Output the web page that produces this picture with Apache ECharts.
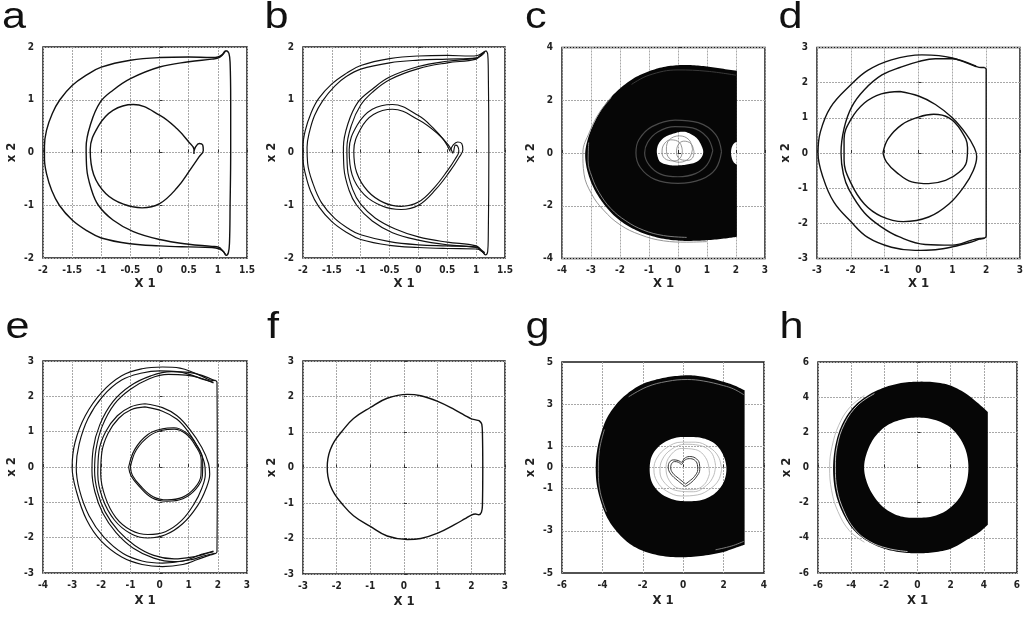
<!DOCTYPE html>
<html><head><meta charset="utf-8">
<script src="https://cdn.jsdelivr.net/npm/echarts@6/dist/echarts.min.js"></script>
<style>html,body{margin:0;padding:0;background:#fff}#c{width:1028px;height:618px}</style>
</head><body><div id="c"></div>
<script>
// ---------------- DATA ----------------
const PANEL_LETTERS = ['a','b','c','d','e','f','g','h'];
const X_NAME = 'X 1';
const Y_NAME = 'x 2';
// [min, max, interval]
const X_RANGES = [[-2,1.5,0.5],[-2,1.5,0.5],[-4,3,1],[-3,3,1],[-4,3,1],[-3,3,1],[-6,4,2],[-6,6,2]];
const Y_RANGES = [[-2,2,1],[-2,2,1],[-4,4,2],[-3,3,1],[-3,3,1],[-3,3,1],[-5,5,1],[-6,6,2]];
const G_Y_TICKS = [5,3,1,0,-1,-3,-5];

// panel a
const A_OUTER = [[1.15,1.93],[1.19,1.88],[1.21,1.7],[1.22,1.0],[1.22,0],[1.21,-1.0],[1.2,-1.7],[1.18,-1.9],[1.14,-1.95],[1.1,-1.88],[1.03,-1.83],[0.9,-1.8],[0.5,-1.79],[0,-1.77],[-0.5,-1.73],[-1.0,-1.62],[-1.25,-1.48],[-1.5,-1.28],[-1.72,-1.0],[-1.85,-0.72],[-1.94,-0.4],[-1.975,-0.12],[-1.975,0.12],[-1.94,0.42],[-1.84,0.74],[-1.71,1.0],[-1.5,1.27],[-1.25,1.47],[-1.0,1.62],[-0.5,1.75],[0,1.8],[0.5,1.81],[0.9,1.8],[1.0,1.81],[1.07,1.85],[1.12,1.92],[1.15,1.93]];
const A_MID = [[1.13,1.92],[1.07,1.84],[1.0,1.79],[0.9,1.77],[0.5,1.72],[0,1.62],[-0.5,1.4],[-0.8,1.18],[-1.02,0.95],[-1.18,0.55],[-1.26,0.1],[-1.25,-0.3],[-1.17,-0.7],[-1.05,-1.0],[-0.8,-1.28],[-0.45,-1.5],[0,-1.65],[0.5,-1.74],[0.9,-1.78],[1.02,-1.8],[1.08,-1.86],[1.13,-1.93]];
const A_INNER = [[0.59,-0.03],[0.59,0.06],[0.5,0.2],[0.3,0.45],[0,0.71],[-0.45,0.91],[-0.8,0.8],[-1.05,0.5],[-1.19,0.05],[-1.13,-0.42],[-0.92,-0.78],[-0.62,-0.98],[-0.3,-1.05],[0,-0.97],[0.3,-0.67],[0.53,-0.32],[0.68,-0.08],[0.75,0.04],[0.74,0.14],[0.68,0.17],[0.62,0.11],[0.59,0.02]];

// panel b
const B_OUTER1 = [[1.17,1.93],[1.2,1.87],[1.21,1.6],[1.22,0],[1.21,-1.6],[1.2,-1.88],[1.16,-1.94],[1.1,-1.87],[1.0,-1.83],[0.5,-1.82],[0,-1.8],[-0.5,-1.76],[-1.0,-1.65],[-1.25,-1.51],[-1.5,-1.31],[-1.73,-1.02],[-1.87,-0.73],[-1.96,-0.4],[-2.0,-0.12],[-2.0,0.12],[-1.96,0.42],[-1.86,0.75],[-1.73,1.02],[-1.5,1.3],[-1.25,1.5],[-1.0,1.65],[-0.5,1.78],[0,1.83],[0.5,1.84],[0.9,1.83],[1.02,1.84],[1.1,1.88],[1.17,1.93]];
const B_OUTER2 = [[1.15,1.9],[1.08,1.83],[1.0,1.79],[0.5,1.77],[0,1.75],[-0.5,1.7],[-1.0,1.58],[-1.25,1.44],[-1.45,1.26],[-1.66,0.98],[-1.8,0.7],[-1.89,0.38],[-1.93,0.1],[-1.92,-0.2],[-1.83,-0.58],[-1.68,-0.95],[-1.45,-1.25],[-1.2,-1.45],[-1.0,-1.56],[-0.5,-1.69],[0,-1.75],[0.5,-1.77],[1.0,-1.79],[1.08,-1.84],[1.15,-1.9]];
const B_MID1 = [[1.15,1.92],[1.07,1.84],[1.0,1.79],[0.5,1.73],[0,1.63],[-0.5,1.43],[-0.8,1.2],[-1.05,0.95],[-1.22,0.55],[-1.3,0.1],[-1.29,-0.3],[-1.2,-0.72],[-1.07,-1.0],[-0.8,-1.3],[-0.45,-1.52],[0,-1.66],[0.5,-1.75],[1.0,-1.8],[1.08,-1.86],[1.15,-1.93]];
const B_MID2 = [[1.1,1.88],[1.0,1.77],[0.5,1.7],[0,1.59],[-0.5,1.38],[-0.8,1.14],[-1.0,0.9],[-1.16,0.52],[-1.24,0.08],[-1.23,-0.3],[-1.14,-0.7],[-1.0,-0.98],[-0.75,-1.24],[-0.4,-1.45],[0,-1.6],[0.5,-1.7],[1.0,-1.77],[1.1,-1.88]];
const B_INNER1 = [[0.55,0.02],[0.45,0.22],[0.25,0.47],[0,0.7],[-0.45,0.91],[-0.8,0.82],[-1.06,0.52],[-1.2,0.05],[-1.15,-0.42],[-0.94,-0.8],[-0.62,-1.02],[-0.3,-1.08],[0,-1.0],[0.3,-0.7],[0.55,-0.35],[0.7,-0.1],[0.77,0.05],[0.75,0.17],[0.68,0.2],[0.6,0.14],[0.56,0.05]];
const B_INNER2 = [[0.6,-0.02],[0.52,0.14],[0.33,0.36],[0,0.62],[-0.45,0.82],[-0.78,0.72],[-1.0,0.45],[-1.12,0.03],[-1.07,-0.38],[-0.88,-0.73],[-0.6,-0.95],[-0.3,-1.02],[0,-0.94],[0.28,-0.66],[0.5,-0.35],[0.64,-0.12],[0.7,0.03],[0.68,0.12],[0.64,0.14],[0.62,0.08],[0.61,0.0]];

// panel c
const C_OUTER = [[2.03,3.12],[1.5,3.2],[1.0,3.28],[0.5,3.33],[0,3.33],[-0.5,3.26],[-1.0,3.1],[-1.5,2.85],[-2.0,2.45],[-2.4,2.0],[-2.72,1.5],[-2.97,0.95],[-3.13,0.45],[-3.2,0],[-3.17,-0.45],[-3.05,-0.95],[-2.85,-1.45],[-2.55,-1.95],[-2.18,-2.4],[-1.75,-2.75],[-1.25,-3.02],[-0.65,-3.22],[0,-3.32],[0.6,-3.33],[1.2,-3.29],[1.7,-3.23],[2.03,-3.18],[2.03,-2.2],[2.03,-1.2],[2.03,-0.45],[1.92,-0.35],[1.84,-0.12],[1.84,0.15],[1.92,0.35],[2.03,0.43],[2.03,1.4],[2.03,2.4]];
const C_HOLE = [[0.18,0.81],[-0.2,0.72],[-0.51,0.56],[-0.68,0.32],[-0.73,0.08],[-0.7,-0.15],[-0.62,-0.33],[-0.35,-0.45],[-0.04,-0.47],[0.3,-0.44],[0.65,-0.33],[0.82,-0.15],[0.87,0.05],[0.8,0.3],[0.65,0.56],[0.42,0.73]];
const C_LOOP1 = [[0.5,0.15],[0.38,0.5],[0.05,0.65],[-0.3,0.5],[-0.4,0.15],[-0.3,-0.2],[0.05,-0.35],[0.38,-0.2],[0.5,0.15]];
const C_LOOP2 = [[0.55,0.05],[0.45,0.35],[0.2,0.45],[0.0,0.3],[-0.05,0.0],[0.1,-0.25],[0.35,-0.28],[0.52,-0.15],[0.55,0.05]];
const C_LOOP3 = [[0.15,0.1],[0.05,0.4],[-0.25,0.5],[-0.5,0.3],[-0.55,0.0],[-0.4,-0.25],[-0.1,-0.3],[0.1,-0.15],[0.15,0.1]];
const C_RING1 = [[1.2,0.1],[1.0,0.6],[0.5,0.95],[-0.1,1.0],[-0.7,0.8],[-1.05,0.4],[-1.15,0.0],[-1.0,-0.45],[-0.6,-0.8],[0.0,-0.9],[0.6,-0.78],[1.0,-0.45],[1.2,0.1]];
const C_RING2 = [[1.5,0.05],[1.3,0.7],[0.7,1.15],[-0.1,1.25],[-0.9,1.0],[-1.35,0.5],[-1.45,0.0],[-1.3,-0.55],[-0.8,-1.0],[0.0,-1.15],[0.8,-1.0],[1.3,-0.6],[1.5,0.05]];
const C_FRINGE = [[-2.3,2.1],[-2.7,1.55],[-3.05,0.8],[-3.28,0.0],[-3.24,-0.8],[-2.98,-1.55],[-2.58,-2.15],[-2.0,-2.72],[-1.3,-3.1],[-0.5,-3.33],[0.3,-3.38],[1.0,-3.36]];
const C_EDGE = [[-3.08,0.4],[-3.1,-0.3],[-2.97,-0.9],[-2.72,-1.5],[-2.32,-2.1],[-1.8,-2.57],[-1.2,-2.92],[-0.5,-3.13],[0.3,-3.2]];
const C_TOP = [[2.0,2.95],[1.0,3.1],[0,3.15],[-1.0,2.95],[-1.6,2.6]];

// panel d
const D_OUTER = [[1.95,2.43],[2.0,2.38],[2.0,0],[2.0,-2.37],[1.95,-2.42],[1.8,-2.45],[1.6,-2.52],[1.0,-2.67],[0.5,-2.75],[-0.1,-2.77],[-0.8,-2.68],[-1.5,-2.4],[-2.0,-1.95],[-2.5,-1.4],[-2.82,-0.7],[-2.97,0],[-2.9,0.6],[-2.6,1.3],[-2.0,1.94],[-1.5,2.35],[-0.8,2.65],[0.1,2.79],[0.6,2.77],[1.0,2.7],[1.4,2.57],[1.7,2.46],[1.85,2.43],[1.95,2.43]];
const D_MID = [[1.7,2.47],[1.3,2.62],[1.0,2.68],[0.5,2.68],[0,2.6],[-0.5,2.45],[-1.08,2.22],[-1.6,1.8],[-1.97,1.32],[-2.2,0.7],[-2.29,0],[-2.22,-0.6],[-2.05,-1.05],[-1.6,-1.7],[-1.1,-2.1],[-0.58,-2.38],[0.2,-2.6],[1.0,-2.62],[1.6,-2.47],[1.8,-2.43],[1.95,-2.42]];
const D_THIRD = [[-0.55,1.75],[0,1.62],[0.5,1.38],[1.0,1.0],[1.4,0.55],[1.65,0.15],[1.72,-0.1],[1.62,-0.5],[1.35,-0.95],[0.9,-1.45],[0.3,-1.82],[-0.45,-1.95],[-1.1,-1.8],[-1.6,-1.45],[-2.0,-0.85],[-2.2,-0.2],[-2.2,0.4],[-2.0,0.95],[-1.6,1.42],[-1.1,1.68],[-0.55,1.75]];
const D_INNER = [[-1.05,0.0],[-0.9,0.4],[-0.5,0.8],[0,1.02],[0.45,1.1],[0.9,1.0],[1.25,0.65],[1.45,0.15],[1.42,-0.25],[1.2,-0.55],[0.8,-0.78],[0.3,-0.87],[-0.2,-0.82],[-0.65,-0.55],[-0.95,-0.25],[-1.05,0.0]];

// panel e
const E_OUTER1 = [[1.92,2.45],[1.97,2.4],[1.98,0],[1.97,-2.4],[1.92,-2.45],[1.7,-2.5],[1.3,-2.62],[0.8,-2.76],[0.1,-2.82],[-0.6,-2.76],[-1.3,-2.55],[-2.0,-2.1],[-2.5,-1.5],[-2.85,-0.7],[-3.0,0],[-2.9,0.7],[-2.55,1.45],[-2.0,2.1],[-1.3,2.58],[-0.6,2.78],[0.1,2.83],[0.7,2.8],[1.2,2.66],[1.5,2.55],[1.75,2.46],[1.92,2.45]];
const E_OUTER2 = [[1.85,2.4],[1.5,2.48],[1.1,2.6],[0.6,2.7],[0.0,2.72],[-0.6,2.66],[-1.3,2.46],[-1.95,2.0],[-2.45,1.38],[-2.76,0.65],[-2.86,0],[-2.75,-0.65],[-2.42,-1.38],[-1.92,-1.98],[-1.25,-2.45],[-0.6,-2.66],[0.1,-2.72],[0.8,-2.66],[1.3,-2.52],[1.6,-2.45],[1.85,-2.4]];
const E_MID1 = [[1.9,2.44],[1.5,2.58],[1.0,2.68],[0.4,2.7],[-0.3,2.58],[-1.0,2.3],[-1.6,1.85],[-2.05,1.2],[-2.28,0.5],[-2.32,-0.1],[-2.22,-0.7],[-1.95,-1.3],[-1.5,-1.85],[-0.9,-2.3],[-0.2,-2.58],[0.5,-2.68],[1.1,-2.62],[1.5,-2.52],[1.9,-2.44]];
const E_MID2 = [[1.85,2.38],[1.4,2.52],[0.9,2.6],[0.3,2.62],[-0.35,2.5],[-1.0,2.2],[-1.55,1.78],[-1.97,1.15],[-2.18,0.5],[-2.23,-0.1],[-2.13,-0.7],[-1.87,-1.27],[-1.42,-1.8],[-0.85,-2.22],[-0.2,-2.5],[0.5,-2.6],[1.1,-2.55],[1.5,-2.46],[1.85,-2.38]];
const E_THIRD1 = [[-0.5,1.79],[0.1,1.68],[0.6,1.45],[1.05,1.05],[1.45,0.55],[1.68,0.1],[1.72,-0.2],[1.6,-0.6],[1.3,-1.1],[0.8,-1.6],[0.2,-1.92],[-0.4,-2.01],[-1.0,-1.88],[-1.55,-1.5],[-1.95,-0.9],[-2.12,-0.2],[-2.08,0.45],[-1.85,1.0],[-1.45,1.45],[-1.0,1.7],[-0.5,1.79]];
const E_THIRD2 = [[-0.5,1.7],[0.1,1.58],[0.6,1.35],[1.0,0.98],[1.35,0.5],[1.54,0.1],[1.57,-0.2],[1.45,-0.6],[1.18,-1.05],[0.75,-1.52],[0.2,-1.83],[-0.4,-1.91],[-0.98,-1.79],[-1.5,-1.43],[-1.86,-0.86],[-2.02,-0.2],[-1.98,0.42],[-1.77,0.95],[-1.4,1.38],[-0.98,1.62],[-0.5,1.7]];
const E_INNER1 = [[-1.06,0.0],[-0.85,0.5],[-0.4,0.92],[0.1,1.08],[0.49,1.11],[0.9,0.98],[1.25,0.65],[1.48,0.2],[1.47,-0.25],[1.25,-0.62],[0.8,-0.9],[0.26,-0.97],[-0.25,-0.88],[-0.7,-0.55],[-0.98,-0.25],[-1.06,0.0]];
const E_INNER2 = [[-1.0,0.0],[-0.8,0.48],[-0.35,0.88],[0.1,1.04],[0.5,1.07],[0.9,0.94],[1.22,0.62],[1.43,0.2],[1.42,-0.24],[1.2,-0.6],[0.78,-0.86],[0.26,-0.93],[-0.22,-0.84],[-0.66,-0.53],[-0.93,-0.24],[-1.0,0.0]];

// panel f
const F_CURVE = [[2.23,1.32],[2.1,1.35],[2.0,1.37],[1.8,1.47],[1.5,1.63],[1.0,1.86],[0.5,2.02],[0.1,2.06],[-0.5,1.95],[-1.0,1.69],[-1.5,1.38],[-1.86,1.0],[-2.06,0.75],[-2.19,0.5],[-2.26,0.25],[-2.28,0.0],[-2.26,-0.25],[-2.19,-0.5],[-2.06,-0.75],[-1.86,-1.0],[-1.5,-1.36],[-1.0,-1.66],[-0.5,-1.93],[0.1,-2.03],[0.5,-2.0],[1.0,-1.85],[1.5,-1.61],[1.8,-1.45],[2.0,-1.34],[2.12,-1.31],[2.22,-1.33],[2.3,-1.26],[2.33,-1.05],[2.34,0.0],[2.33,0.95],[2.31,1.22],[2.23,1.32]];

// panel g
const G_OUTER = [[3.04,3.66],[2.5,3.9],[2.0,4.06],[1.0,4.3],[0.3,4.37],[-0.5,4.32],[-1.2,4.2],[-2.0,3.96],[-2.7,3.55],[-3.31,3.0],[-3.8,2.3],[-4.1,1.5],[-4.28,0.7],[-4.33,0.0],[-4.28,-0.8],[-4.08,-1.6],[-3.75,-2.4],[-3.32,-3.0],[-2.7,-3.58],[-2.0,-3.95],[-1.0,-4.2],[0.0,-4.25],[1.0,-4.18],[2.0,-4.0],[2.6,-3.8],[3.04,-3.66],[3.04,-1.5],[3.04,1.5]];
const G_HOLE = [[2.14,-0.08],[2.0,0.55],[1.6,1.1],[1.0,1.38],[0.24,1.45],[-0.5,1.38],[-1.15,1.05],[-1.55,0.55],[-1.66,-0.08],[-1.55,-0.7],[-1.15,-1.2],[-0.5,-1.52],[0.24,-1.6],[1.0,-1.52],[1.6,-1.2],[2.0,-0.7]];
const G_RING1 = [[1.9,-0.1],[1.75,0.5],[1.3,0.95],[0.6,1.2],[-0.1,1.2],[-0.8,0.95],[-1.3,0.45],[-1.45,-0.1],[-1.3,-0.65],[-0.85,-1.1],[-0.1,-1.35],[0.7,-1.3],[1.35,-1.0],[1.75,-0.6],[1.9,-0.1]];
const G_RING2 = [[1.6,0.1],[1.4,0.7],[0.8,1.05],[0.1,1.1],[-0.6,0.85],[-1.05,0.35],[-1.15,-0.2],[-0.9,-0.75],[-0.3,-1.1],[0.5,-1.15],[1.15,-0.85],[1.5,-0.4],[1.6,0.1]];
const G_RING3 = [[1.3,-0.3],[1.15,0.4],[0.6,0.85],[-0.1,0.9],[-0.65,0.55],[-0.85,0.0],[-0.7,-0.6],[-0.2,-1.0],[0.5,-1.05],[1.05,-0.8],[1.3,-0.3]];
const G_HEART1 = [[0.1,-0.9],[-0.3,-0.6],[-0.62,-0.3],[-0.74,0.0],[-0.68,0.25],[-0.48,0.36],[-0.25,0.33],[-0.08,0.25],[0.05,0.42],[0.3,0.52],[0.6,0.45],[0.8,0.2],[0.82,-0.1],[0.65,-0.45],[0.35,-0.75],[0.1,-0.9]];
const G_HEART2 = [[0.12,-0.78],[-0.22,-0.52],[-0.52,-0.26],[-0.62,0.0],[-0.56,0.2],[-0.42,0.28],[-0.24,0.25],[-0.08,0.15],[0.05,0.33],[0.3,0.42],[0.55,0.36],[0.7,0.15],[0.72,-0.1],[0.56,-0.42],[0.3,-0.65],[0.12,-0.78]];
const G_BAND_TOP = [[3.0,3.45],[2.5,3.72],[2.0,3.88],[1.0,4.1],[0.2,4.17],[-0.8,4.08],[-1.8,3.82],[-2.7,3.35]];
const G_BAND_LEFT = [[-3.9,1.8],[-4.15,0.8],[-4.2,-0.2],[-4.1,-1.2],[-3.8,-2.1]];
const G_BAND_BOT = [[3.0,-3.5],[2.4,-3.72],[1.6,-3.9]];

// panel h
const H_OUTER = [[4.24,3.16],[3.6,3.7],[3.0,4.15],[2.0,4.66],[1.0,4.85],[0.0,4.88],[-1.0,4.8],[-2.0,4.55],[-3.0,4.1],[-3.85,3.45],[-4.5,2.55],[-4.92,1.4],[-5.09,0.0],[-4.95,-1.4],[-4.5,-2.6],[-3.85,-3.55],[-3.0,-4.2],[-2.0,-4.62],[-1.0,-4.82],[0.0,-4.88],[1.0,-4.82],[2.0,-4.62],[3.0,-4.1],[3.7,-3.7],[4.24,-3.26],[4.24,-1.0],[4.24,1.0]];
const H_HOLE = [[3.07,0],[2.95,0.85],[2.6,1.6],[1.95,2.3],[1.0,2.72],[0,2.84],[-1.0,2.72],[-1.9,2.35],[-2.6,1.7],[-3.05,0.85],[-3.22,0],[-3.05,-0.85],[-2.6,-1.68],[-1.9,-2.38],[-1.0,-2.78],[0,-2.86],[1.0,-2.76],[1.85,-2.38],[2.55,-1.7],[2.95,-0.88]];
const H_FRINGE = [[-3.2,4.1],[-4.1,3.4],[-4.75,2.4],[-5.15,1.2],[-5.3,0],[-5.18,-1.3],[-4.8,-2.5],[-4.1,-3.6],[-3.2,-4.25]];
const H_WHITE = [[-2.6,4.2],[-3.6,3.55],[-4.4,2.5],[-4.85,1.2],[-4.95,0],[-4.85,-1.25],[-4.45,-2.45],[-3.8,-3.5],[-2.9,-4.2],[-1.8,-4.6],[-0.6,-4.78]];

// ---------------- LAYOUT / STYLE ----------------
const GRIDS = [[43,47,204,211],[303,47,202,211],[562,47.5,203,211],[817,47.5,203,211],
               [43,361,204,212],[303,361,202,213],[562,362,202,211],[818,362,199,211]];
const LETTER_POS = [[2,0],[264.5,0],[525,0],[778.5,0],[5.5,310],[267,310],[525.5,310],[779.5,310]];
const STY = {
  main:{color:'#111',width:1.4}, dbl:{color:'#111',width:1.15},
  dark:{color:'#3a3a3a',width:1}, ring:{color:'#4a4a4a',width:1.2}, gray:{color:'#8a8a8a',width:0.9},
  light:{color:'#b5b5b5',width:0.9}, white:{color:'#e8e8e8',width:0.8}
};
const LINES = [
  [0,A_OUTER,'main'],[0,A_MID,'main'],[0,A_INNER,'main'],
  [1,B_OUTER1,'dbl'],[1,B_OUTER2,'dbl'],[1,B_MID1,'dbl'],[1,B_MID2,'dbl'],[1,B_INNER1,'dbl'],[1,B_INNER2,'dbl'],
  [2,C_FRINGE,'gray'],[2,C_EDGE,'gray'],[2,C_TOP,'dark'],[2,C_RING1,'ring'],[2,C_RING2,'ring'],
  [2,C_LOOP1,'gray'],[2,C_LOOP2,'gray'],[2,C_LOOP3,'gray'],
  [3,D_OUTER,'main'],[3,D_MID,'main'],[3,D_THIRD,'main'],[3,D_INNER,'main'],
  [4,E_OUTER1,'dbl'],[4,E_OUTER2,'dbl'],[4,E_MID1,'dbl'],[4,E_MID2,'dbl'],[4,E_THIRD1,'dbl'],[4,E_THIRD2,'dbl'],[4,E_INNER1,'dbl'],[4,E_INNER2,'dbl'],
  [5,F_CURVE,'main'],
  [6,G_BAND_TOP,'gray'],[6,G_BAND_LEFT,'gray'],[6,G_BAND_BOT,'gray'],
  [6,G_RING1,'light'],[6,G_RING2,'light'],[6,G_RING3,'light'],[6,G_HEART1,'dark'],[6,G_HEART2,'dark'],
  [7,H_FRINGE,'light'],[7,H_WHITE,'white']
];
const FILLS = [[2,C_OUTER,C_HOLE],[6,G_OUTER,G_HOLE],[7,H_OUTER,H_HOLE]];

const NARROW = "'Liberation Sans Narrow','DejaVu Sans Condensed','Arial Narrow',sans-serif";
const GRID_LINE = {color:'#a8a8a8',width:1,type:[2,1]};

function area(p){let s=0;for(let i=0;i<p.length;i++){const a=p[i],b=p[(i+1)%p.length];s+=a[0]*b[1]-b[0]*a[1];}return s;}
// centripetal Catmull-Rom rendering of a closed ring of projected pixel points; sharp turns stay corners
function smoothRing(p,n){
  const out=[],N=p.length;
  const corner=p.map((c,i)=>{
    const a=p[(i-1+N)%N],b=p[(i+1)%N];
    const v1=[c[0]-a[0],c[1]-a[1]],v2=[b[0]-c[0],b[1]-c[1]];
    const cs=(v1[0]*v2[0]+v1[1]*v2[1])/(Math.hypot(v1[0],v1[1])*Math.hypot(v2[0],v2[1])+1e-9);
    return cs<Math.cos(Math.PI/4);
  });
  const lerp=(a,b,ta,tb,t)=>{const d=tb-ta;if(d<1e-9)return a.slice();return [(tb-t)/d*a[0]+(t-ta)/d*b[0],(tb-t)/d*a[1]+(t-ta)/d*b[1]];};
  const dist=(a,b)=>Math.max(1e-4,Math.sqrt(Math.hypot(a[0]-b[0],a[1]-b[1])));
  for(let i=0;i<N;i++){
    const P1=p[i],P2=p[(i+1)%N];
    const P0=corner[i]?[2*P1[0]-P2[0],2*P1[1]-P2[1]]:p[(i-1+N)%N];
    const P3=corner[(i+1)%N]?[2*P2[0]-P1[0],2*P2[1]-P1[1]]:p[(i+2)%N];
    const t0=0,t1=t0+dist(P0,P1),t2=t1+dist(P1,P2),t3=t2+dist(P2,P3);
    for(let k=0;k<n;k++){
      const t=t1+(t2-t1)*k/n;
      const A1=lerp(P0,P1,t0,t1,t),A2=lerp(P1,P2,t1,t2,t),A3=lerp(P2,P3,t2,t3,t);
      const B1=lerp(A1,A2,t0,t2,t),B2=lerp(A2,A3,t1,t3,t);
      out.push(lerp(B1,B2,t1,t2,t));
    }
  }
  return out;
}

const grid=[],xAxis=[],yAxis=[],series=[];
GRIDS.forEach((g,i)=>{
  grid.push({left:g[0],top:g[1],width:g[2],height:g[3],show:true,borderColor:'#1a1a1a',borderWidth:1.5,backgroundColor:'transparent'});
  const xr=X_RANGES[i], yr=Y_RANGES[i];
  const isG = i===6;
  xAxis.push({type:'value',gridIndex:i,min:xr[0],max:xr[1],interval:xr[2],
    name:X_NAME,nameLocation:'middle',nameGap:i<4?19:21,
    nameTextStyle:{fontFamily:NARROW,fontWeight:'bold',fontSize:13,color:'#222'},
    axisLine:{show:false},axisTick:{show:true,inside:true,length:3,lineStyle:{color:'#333'}},
    axisLabel:{fontFamily:NARROW,fontWeight:'bold',fontSize:10,color:'#222',margin:7,hideOverlap:false},
    splitLine:{show:true,lineStyle:GRID_LINE}});
  yAxis.push({type:'value',gridIndex:i,min:yr[0],max:yr[1],interval:yr[2],
    name:Y_NAME,nameLocation:'middle',nameGap:25,nameRotate:90,
    nameTextStyle:{fontFamily:NARROW,fontWeight:'bold',fontSize:13,color:'#222'},
    axisLine:{show:false},axisTick:{show:!isG,inside:true,length:3,lineStyle:{color:'#333'}},
    axisLabel:{fontFamily:NARROW,fontWeight:'bold',fontSize:10,color:'#222',margin:9,hideOverlap:false,
      formatter: isG ? (v=>G_Y_TICKS.indexOf(v)>=0?String(v):'') : undefined},
    splitLine:{show:!isG,lineStyle:GRID_LINE}});
});
// panel g horizontal gridlines at its irregular tick values
series.push({type:'line',xAxisIndex:6,yAxisIndex:6,data:[],z:1,silent:true,animation:false,
  markLine:{z:1,silent:true,symbol:['none','none'],label:{show:false},lineStyle:GRID_LINE,animation:false,
    data:G_Y_TICKS.filter(v=>Math.abs(v)<5).map(v=>({yAxis:v}))}});

FILLS.forEach(([pi,outer,hole])=>{
  series.push({type:'custom',coordinateSystem:'cartesian2d',xAxisIndex:pi,yAxisIndex:pi,z:2,silent:true,animation:false,
    data:[[0,0]],
    renderItem:(params,api)=>{
      const o=smoothRing(outer.map(p=>api.coord(p)),8);
      let h=smoothRing(hole.map(p=>api.coord(p)),8);
      if(Math.sign(area(o))===Math.sign(area(h))) h=h.reverse();
      const pts=o.concat([o[0]],h,[h[0]]);
      return {type:'polygon',shape:{points:pts},style:{fill:'#060606'}};
    }});
});
LINES.forEach(([pi,data,sk])=>{
  const s=STY[sk];
  series.push({type:'line',xAxisIndex:pi,yAxisIndex:pi,data:data,showSymbol:false,symbol:'none',smooth:0.4,
    z:3,silent:true,animation:false,lineStyle:{color:s.color,width:s.width}});
});

const graphic = LETTER_POS.map((p,i)=>({type:'text',x:p[0],y:p[1],scaleX:1.2,silent:true,
  style:{text:PANEL_LETTERS[i],font:'36px "Liberation Sans", Arial, sans-serif',fill:'#111',verticalAlign:'top'}}));

const chart = echarts.init(document.getElementById('c'),null,{renderer:'canvas'});
chart.setOption({animation:false,backgroundColor:'#fff',grid,xAxis,yAxis,series,graphic});
</script></body></html>
